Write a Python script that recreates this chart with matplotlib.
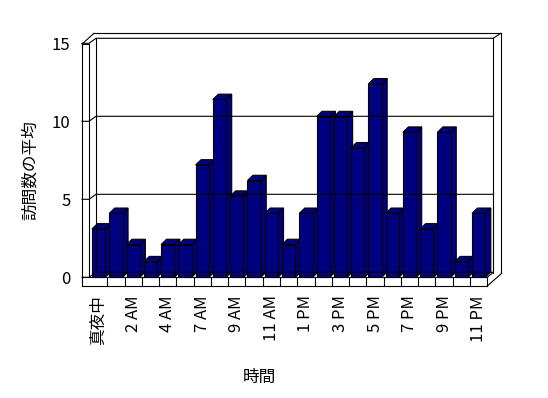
import matplotlib
matplotlib.use("Agg")
import matplotlib.pyplot as plt
from matplotlib.patches import Polygon
from matplotlib.lines import Line2D
import numpy as np

plt.rcParams['font.family'] = ['Noto Sans CJK JP', 'DejaVu Sans']

categories = ["真夜中", "1 AM", "2 AM", "3 AM", "4 AM", "5 AM", "7 AM", "8 AM",
              "9 AM", "10 AM", "11 AM", "正午", "1 PM", "2 PM", "3 PM", "4 PM",
              "5 PM", "6 PM", "7 PM", "8 PM", "9 PM", "10 PM", "11 PM"]
values = [3.1, 4.1, 2.1, 1.0, 2.1, 2.1, 7.2, 11.4, 5.2, 6.2, 4.1, 2.1,
          4.1, 10.3, 10.3, 8.3, 12.4, 4.1, 9.3, 3.1, 9.3, 1.0, 4.1]
yticks = [0, 5, 10, 15]
xlabel = "時間"
ylabel = "訪問数の平均"

W, H = 548, 398
fig = plt.figure(figsize=(W / 100, H / 100), dpi=100)
fig.patch.set_facecolor("white")

# front plane of the plot area in pixels (image coords)
L, R, T, B = 90, 487.3, 43.3, 277.3
ax = fig.add_axes([L / W, 1 - B / H, (R - L) / W, (B - T) / H])
n = len(values)
x = np.arange(n)
ax.set_xlim(-0.5, n - 0.5)
ax.set_ylim(0, 15)
for s in ax.spines.values():
    s.set_visible(False)
ax.set_facecolor("none")

pxx = (R - L) / n          # px per category
pxy = (B - T) / 15         # px per unit
DX, DY = 6, 5              # depth offset (px)
bdx, bdy = 5.5 / pxx, 5.3 / pxy  # bar depth in data units
LW = 0.8


def fline(pts, lw=LW):
    xs = [px / W for px, py in pts]
    ys = [1 - py / H for px, py in pts]
    fig.add_artist(Line2D(xs, ys, color="black", lw=lw, transform=fig.transFigure,
                          zorder=1))


def yfront(v):
    return B - v * pxy


def yback(v):
    return B - DY - v * pxy


# back wall & gridlines
for v in yticks:
    fline([(82, yfront(v)), (89, yfront(v)), (L + DX, yback(v)), (R + DX, yback(v))])
# back wall verticals
fline([(L + DX, yback(15)), (L + DX, yback(0))])
fline([(R + DX, yback(15)), (R + DX, yback(0) + 1)])
fline([(R + DX + 7.4, 33.3), (R + DX + 7.4, 273.3)])
fline([(94, 33.3), (R + DX + 7.4, 33.3)])
fline([(R + DX, yback(15)), (R + DX + 7.4, 33.3)])
# left wall
fline([(82, 44), (82, 286)])
fline([(89, 44), (89, B)])
fline([(82, 44), (89, 44)])
fline([(82, 44), (94, 33.3)])
# floor
fline([(82, B), (R, B)])
fline([(82, 286), (R, 286)])
fline([(R, B), (R, 286)])
fline([(R, 286), (R + DX + 8.4, 273.3)])
fline([(R, B), (R + DX, yback(0))])
for i in range(1, n):
    xp = L + i * pxx
    fline([(xp, B), (xp, 286)])

# bars
w = 0.77
navy = "#000080"
bars = ax.bar(x, values, width=w, color=navy, edgecolor="black", linewidth=LW)
for i, (xi, v) in enumerate(zip(x, values)):
    x0, x1 = xi - w / 2, xi + w / 2
    z = 3 + i * 3
    side = Polygon([(x1, 0), (x1 + bdx, bdy), (x1 + bdx, v + bdy), (x1, v)],
                   closed=True, facecolor=navy, edgecolor="black", lw=LW, zorder=z)
    top = Polygon([(x0, v), (x1, v), (x1 + bdx, v + bdy), (x0 + bdx, v + bdy)],
                  closed=True, facecolor=navy, edgecolor="black", lw=LW, zorder=z + 1)
    ax.add_patch(side)
    ax.add_patch(top)
    bars[i].set_zorder(z + 2)
    bars[i].set_clip_on(False)
    side.set_clip_on(False)
    top.set_clip_on(False)

ax.set_yticks(yticks)
ax.set_yticklabels([str(t) for t in yticks], fontsize=12)
ax.set_xticks(x[::2])
ax.set_xticklabels(categories[::2], rotation=90, fontsize=12)
ax.tick_params(axis="y", length=0, pad=14)
ax.tick_params(axis="x", length=0, pad=13)

fig.text(259 / W, 1 - 377 / H, xlabel, fontsize=12, ha="center", va="center")
fig.text(30 / W, 1 - 170 / H, ylabel, fontsize=12, ha="center", va="center",
         rotation=90)

fig.savefig("out.png", dpi=100, facecolor="white")
